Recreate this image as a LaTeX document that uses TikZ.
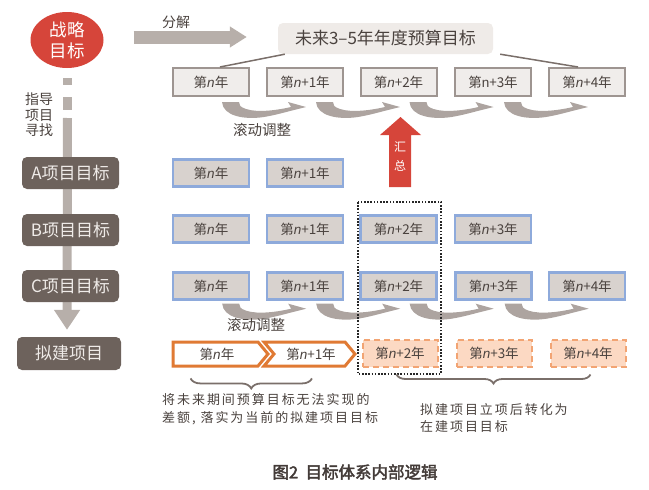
\documentclass[tikz,border=0pt]{standalone}
\usepackage{fontspec}
\setmainfont{Noto Sans CJK SC}
\newfontfamily\latin{Liberation Sans}
\newfontfamily\spaced{Noto Sans CJK SC}[LetterSpace=15]
\newfontfamily\cjkbold{Noto Sans CJK SC}[FakeBold=2.5]
\usetikzlibrary{shapes.geometric,calc,decorations.pathreplacing,arrows.meta}
\pgfdeclarelayer{bg}
\pgfsetlayers{bg,main}
\definecolor{txt}{HTML}{4A423E}
\definecolor{rowborder}{HTML}{9E9591}
\definecolor{rowfill}{HTML}{F0EDEB}
\definecolor{blueb}{HTML}{8EAADB}
\definecolor{bluefill}{HTML}{D8D2CE}
\definecolor{darkbox}{HTML}{6D625C}
\definecolor{darktxt}{HTML}{EFEBE8}
\definecolor{grayarr}{HTML}{B7AFAA}
\definecolor{swc}{HTML}{ADA4A0}
\definecolor{redc}{HTML}{D6453A}
\definecolor{orangec}{HTML}{E07A34}
\definecolor{lorange}{HTML}{FCD9C3}
\definecolor{dorange}{HTML}{F2A473}
\definecolor{topfill}{HTML}{EFEBE8}
\definecolor{bracec}{HTML}{7A6F6A}
\newcommand\nn{{\latin\itshape n}}
\newcommand\nup{{\latin n}}
\tikzset{
  yrtxt/.style={font=\fontsize{13.5}{15}\selectfont, text=txt, inner sep=0pt},
  yrbox/.style={yrtxt, draw=rowborder, fill=rowfill, line width=2pt, minimum width=76pt, minimum height=28pt},
  bluebox/.style={yrtxt, draw=blueb, fill=bluefill, line width=2.4pt, minimum width=76pt, minimum height=27pt},
  dashbox/.style={yrtxt, draw=dorange, fill=lorange, line width=2pt, dash pattern=on 6pt off 4pt, minimum width=75pt, minimum height=27pt},
  projbox/.style={fill=darkbox, rounded corners=5pt, text=darktxt, font=\fontsize{17}{19}\selectfont, minimum width=97pt, minimum height=32pt, inner sep=0pt},
  swoosh/.pic={
    \fill[swc] (-8,0) .. controls (-7,14) and (14,18) .. (34,15)
      .. controls (46,13) and (56,10) .. (64,8)
      -- (76,5) -- (58,0) -- (61,5)
      .. controls (48,8) and (28,11) .. (16,7)
      .. controls (10,5) and (9,3) .. (9,0) -- cycle;
  }
}
\begin{document}
\begin{tikzpicture}[x=1pt,y=-1pt]
\useasboundingbox (0,0) rectangle (649,490);
% strategic goal
\node[ellipse, fill=redc, minimum width=73pt, minimum height=56pt, inner sep=0pt, text=white, font=\fontsize{17.5}{21}\selectfont, align=center] (goal) at (67,40) {战略\\目标};
% top box
\node[fill=topfill, rounded corners=5pt, minimum width=215pt, minimum height=31pt, inner sep=0pt, text=txt, font=\fontsize{17}{19}\selectfont] (top) at (385.5,38.5) {未来3–5年年度预算目标};
% decomposition arrow
\draw[grayarr, line width=13pt, -{Triangle[length=17pt,width=20pt]}] ($(goal.east)+(30,-3)$) -- ($(top.west)+(-31,-1.5)$);
\node[text=txt, font=\fontsize{14}{16}\selectfont, inner sep=0pt] (fj) at (176,22) {分解};
% row 1
\node[yrbox] (r1a) at (211,82) {第\nn 年};
\node[yrbox] (r1b) at (305,82) {第\nn+1年};
\node[yrbox] (r1c) at (398.5,82) {第\nn+2年};
\node[yrbox] (r1d) at (493,82) {第\nup+3年};
\node[yrbox] (r1e) at (587,82) {第\nn+4年};
\draw[bracec, line width=1.5pt] ($(top.south west)+(7,0)$) -- ($(r1a.north)+(9,0)$);
\draw[bracec, line width=1.5pt] ($(top.south east)+(7,0)$) -- ($(r1e.north)+(-9,0)$);
\foreach \b in {r1a,r1b,r1c,r1d} {
  \pic at ($(\b.south east)+(-20,5)$) {swoosh};
}
\node[text=txt, font=\fontsize{14.5}{16}\selectfont, inner sep=0pt] (gd1) at (262,130) {滚动调整};
% red summary arrow
\fill[redc] (389,187) -- (411,187) -- (411,135) -- (421,135) -- (400.5,117) -- (380,135) -- (389,135) -- cycle;
\node[text=white, font=\fontsize{12}{19}\selectfont, align=center, inner sep=0pt] (hz) at (400,157) {汇\\总};
% left column
\node[text=txt, font=\fontsize{14}{15.5}\selectfont, align=center, inner sep=0pt] (zd) at (39,115) {指导\\项目\\寻找};
\node[projbox] (pa) at (70.5,173) {A项目目标};
\node[projbox] (pb) at (70.5,230) {B项目目标};
\node[projbox] (pc) at (70.5,286) {C项目目标};
\node[projbox, minimum width=104pt, minimum height=33pt] (pn) at (69,353.5) {拟建项目};
\coordinate (dtip) at ($(pn.north)+(-2,-7)$);
\begin{pgfonlayer}{bg}
  \fill[grayarr] (63,78) rectangle (72,85);
  \fill[grayarr] (63,97) rectangle (72,110);
  \draw[grayarr, line width=9pt, -{Triangle[length=20pt,width=25pt]}] (67.5,118) -- (dtip);
\end{pgfonlayer}
% row A
\node[bluebox] (ra1) at (211,173) {第\nn 年};
\node[bluebox] (ra2) at (305,173) {第\nn+1年};
% row B
\node[bluebox] (rb1) at (211,229) {第\nn 年};
\node[bluebox] (rb2) at (305,229) {第\nn+1年};
\node[bluebox] (rb3) at (398.5,229) {第\nn+2年};
\node[bluebox] (rb4) at (493,229) {第\nn+3年};
% row C
\node[bluebox] (rc1) at (211,286) {第\nn 年};
\node[bluebox] (rc2) at (305,286) {第\nn+1年};
\node[bluebox] (rc3) at (398.5,286) {第\nn+2年};
\node[bluebox] (rc4) at (493.5,286) {第\nn+3年};
\node[bluebox] (rc5) at (587,286) {第\nn+4年};
\foreach \b in {rc1,rc2,rc3,rc4} {
  \pic at ($(\b.south east)+(-20,3)$) {swoosh};
}
\node[text=txt, font=\fontsize{14.5}{16}\selectfont, inner sep=0pt] (gd2) at (256,325) {滚动调整};
% planned project row
\draw[orangec, fill=white, line width=3pt, line join=miter] (173,342) -- (258,342) -- (268,354) -- (258,366) -- (173,366) -- cycle;
\draw[orangec, fill=white, line width=3pt, line join=miter] (264,342) -- (345,342) -- (355,354) -- (345,366) -- (264,366) -- (274,354) -- cycle;
\node[yrtxt] (pn1) at (217,354) {第\nn 年};
\node[yrtxt] (pn2) at (311,354) {第\nn+1年};
\node[dashbox] (pn3) at (400,353) {第\nn+2年};
\node[dashbox] (pn4) at (494,353) {第\nn+3年};
\node[dashbox] (pn5) at (588,353) {第\nn+4年};
% dotted frame
\draw[black!85, line width=2.2pt, dash pattern=on 1.6pt off 1.6pt] (358,202) rectangle (441,374);
% braces
\draw[bracec, line width=1.8pt, decorate, decoration={brace, mirror, amplitude=10pt}] ($(pn1.south west)+(-9,18)$) -- ($(pn2.south east)+(-24,18)$);
\draw[bracec, line width=1.8pt, decorate, decoration={brace, mirror, amplitude=9pt}] ($(pn3.south west)+(35,7)$) -- ($(pn5.south east)+(-36,7)$);
\node[anchor=west, align=left, text=txt, font=\spaced\fontsize{13}{18}\selectfont, inner sep=0pt] (t1) at (162,409) {将未来期间预算目标无法实现的\\差额, 落实为当前的拟建项目目标};
\node[anchor=west, align=left, text=txt, font=\spaced\fontsize{13}{17}\selectfont, inner sep=0pt] (t2) at (420,418.5) {拟建项目立项后转化为\\在建项目目标};
% caption
\node[text=txt!90!black, font=\cjkbold\fontsize{16.5}{18}\selectfont, inner sep=0pt] (cap) at (355,472) {图2\ \ 目标体系内部逻辑};
\end{tikzpicture}
\end{document}
